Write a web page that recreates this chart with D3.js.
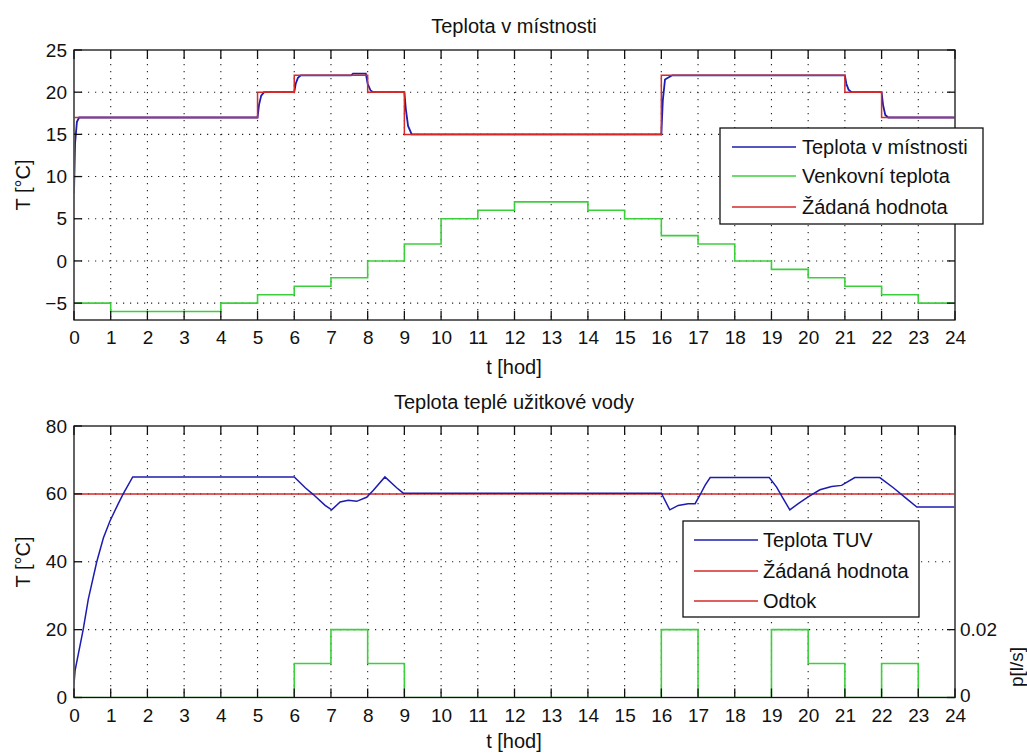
<!DOCTYPE html>
<html><head><meta charset="utf-8">
<script src="https://cdn.jsdelivr.net/npm/d3@7"></script>
<style>
html,body{margin:0;padding:0;background:#fff;}
text{font-family:"Liberation Sans",Arial,sans-serif;fill:#111;}
</style></head>
<body><svg id="c" width="1027" height="753"></svg>
<script>
// ---------- data ----------
const hourTicks = [0,1,2,3,4,5,6,7,8,9,10,11,12,13,14,15,16,17,18,19,20,21,22,23,24];
const roomYTicks = [-5,0,5,10,15,20,25];
const tuvYTicks = [0,20,40,60,80];
const flowYTicks = [0,0.02];

// Top: set-point room temperature (step, value holds from time until next)
const roomSetTimes = [0,5,6,8,9,16,21,22,24];
const roomSetVals  = [17,20,22,20,15,22,20,17,17];

// Top: outdoor temperature per hour (step)
const outdoorTimes = [0,1,2,3,4,5,6,7,8,9,10,11,12,13,14,15,16,17,18,19,20,21,22,23,24];
const outdoorVals  = [-5,-6,-6,-6,-5,-4,-3,-2,0,2,5,6,7,7,6,5,3,2,0,-1,-2,-3,-4,-5,-5];

// Top: room temperature (simulated response)
const roomTimes = [0,0.03,0.08,0.14,5,5.04,5.1,5.18,6,6.04,6.1,6.18,7.55,7.6,7.95,8.0,8.08,8.15,9,9.04,9.1,9.2,16,16.04,16.1,16.18,16.3,21,21.04,21.1,21.18,22,22.04,22.1,22.18,24];
const roomVals  = [8,14,16.5,17,17,18.5,19.6,20,20,21,21.7,22,22,22.2,22.2,21,20.2,20,20,18,16,15,15,19,21.5,21.7,22,22,21,20.3,20,20,18.5,17.3,17,17];

// Bottom: hot water temperature
const tuvTimes = [0,0.03,0.25,0.39,0.62,0.8,0.98,1.2,1.34,1.6,6.0,6.3,6.52,6.84,7.02,7.25,7.47,7.7,7.97,8.15,8.47,8.79,8.97,16.0,16.23,16.46,16.73,16.92,17.05,17.19,17.33,18.94,19.14,19.32,19.5,19.73,20.0,20.32,20.64,20.91,21.27,21.95,22.32,22.68,22.96,24];
const tuvVals  = [4,8,20,29,40,47,52,57,60,65,65,61.8,59.8,56.6,55.3,57.6,58.1,57.8,59,61,65,61.8,60.2,60.2,55.3,56.6,57.1,57.1,59.6,62.5,64.8,64.8,62,58.6,55.3,57.1,59.1,61.2,62.2,62.5,64.8,64.8,61.8,58.6,56.1,56.1];
const tuvSetpoint = 60;

// Bottom: water outflow per hour [l/s] (step)
const flowTimes = [0,1,2,3,4,5,6,7,8,9,10,11,12,13,14,15,16,17,18,19,20,21,22,23,24];
const flowVals  = [0,0,0,0,0,0,0.01,0.02,0.01,0,0,0,0,0,0,0,0.02,0,0,0.02,0.01,0,0.01,0,0];

const titles = ["Teplota v místnosti","Teplota teplé užitkové vody"];
const legendTop = ["Teplota v místnosti","Venkovní teplota","Žádaná hodnota"];
const legendBottom = ["Teplota TUV","Žádaná hodnota","Odtok"];

// ---------- drawing ----------
const BLUE="#1c1cb0", RED="#d42a2a", GREEN="#3ccf3c";
const svg = d3.select("#c");
svg.append("rect").attr("width",1027).attr("height",753).attr("fill","#fff");
const defs = svg.append("defs");

const L=74, R=955;
const x = d3.scaleLinear().domain([0,24]).range([L,R]);

function panel(yDom, top, bottom, yTicks, id){
  const y = d3.scaleLinear().domain(yDom).range([bottom, top]);
  defs.append("clipPath").attr("id",id).append("rect")
    .attr("x",L+0.8).attr("y",top+0.8).attr("width",R-L-1.6).attr("height",bottom-top-1.6);
  const g = svg.append("g");
  g.selectAll(".gx").data(hourTicks.filter(d=>d>0&&d<24)).join("line")
    .attr("x1",d=>x(d)).attr("x2",d=>x(d)).attr("y1",top).attr("y2",bottom)
    .attr("stroke","#222").attr("stroke-width",1.1).attr("stroke-dasharray","1.2,5.8");
  g.selectAll(".gy").data(yTicks.filter(d=>d>yDom[0]&&d<yDom[1])).join("line")
    .attr("x1",L).attr("x2",R).attr("y1",d=>y(d)).attr("y2",d=>y(d))
    .attr("stroke","#222").attr("stroke-width",1.1).attr("stroke-dasharray","1.2,5.8");
  const data = svg.append("g").attr("clip-path",`url(#${id})`);
  return {y,g:data,top,bottom};
}
function frame(p, yTicks, rightTicks){
  const {y,top,bottom} = p;
  const g = svg.append("g");
  g.append("rect").attr("x",L).attr("y",top).attr("width",R-L).attr("height",bottom-top)
    .attr("fill","none").attr("stroke","#111").attr("stroke-width",1.3);
  hourTicks.forEach(d=>{
    g.append("line").attr("x1",x(d)).attr("x2",x(d)).attr("y1",bottom).attr("y2",bottom-9).attr("stroke","#111").attr("stroke-width",1.3);
    g.append("line").attr("x1",x(d)).attr("x2",x(d)).attr("y1",top).attr("y2",top+9).attr("stroke","#111").attr("stroke-width",1.3);
  });
  const ax = d3.axisBottom(x).tickValues(hourTicks).tickSize(0).tickPadding(11);
  const axg = g.append("g").attr("transform",`translate(0,${bottom})`).call(ax);
  axg.select(".domain").remove();
  axg.selectAll("text").attr("font-size",19).attr("fill","#111");
  yTicks.forEach(d=>{
    g.append("line").attr("x1",L).attr("x2",L+8).attr("y1",y(d)).attr("y2",y(d)).attr("stroke","#111").attr("stroke-width",1.3);
    if(!rightTicks) g.append("line").attr("x1",R).attr("x2",R-8).attr("y1",y(d)).attr("y2",y(d)).attr("stroke","#111").attr("stroke-width",1.3);
  });
  const ay = d3.axisLeft(y).tickValues(yTicks).tickSize(0).tickPadding(7);
  const ayg = g.append("g").attr("transform",`translate(${L},0)`).call(ay);
  ayg.select(".domain").remove();
  ayg.selectAll("text").attr("font-size",19).attr("fill","#111");
  return g;
}

function stepLine(g, xs, ys, yS, color, w){
  const pts = xs.map((t,i)=>[t,ys[i]]);
  g.append("path").datum(pts)
    .attr("d", d3.line().x(d=>x(d[0])).y(d=>yS(d[1])).curve(d3.curveStepAfter))
    .attr("fill","none").attr("stroke",color).attr("stroke-width",w);
}
function polyLine(g, xs, ys, yS, color, w){
  const pts = xs.map((t,i)=>[t,ys[i]]);
  g.append("path").datum(pts)
    .attr("d", d3.line().x(d=>x(d[0])).y(d=>yS(d[1])))
    .attr("fill","none").attr("stroke",color).attr("stroke-width",w);
}

function legend(g, x0, y0, x1, y1, rows, colors, lx0, lx1, tx, ys){
  g.append("rect").attr("x",x0).attr("y",y0).attr("width",x1-x0).attr("height",y1-y0)
    .attr("fill","#fff").attr("stroke","#111").attr("stroke-width",1.3);
  rows.forEach((r,i)=>{
    g.append("line").attr("x1",lx0).attr("x2",lx1).attr("y1",ys[i]).attr("y2",ys[i]).attr("stroke",colors[i]).attr("stroke-width",1.3);
    g.append("text").attr("x",tx).attr("y",ys[i]+7).attr("font-size",20).text(r);
  });
}

// ---- top panel ----
const p1 = panel([-7,25], 50, 320, roomYTicks, "clipTop");
stepLine(p1.g, outdoorTimes, outdoorVals, p1.y, GREEN, 1.6);
polyLine(p1.g, roomTimes, roomVals, p1.y, BLUE, 1.8);
stepLine(p1.g, roomSetTimes, roomSetVals, p1.y, RED, 1.5);
const f1 = frame(p1, roomYTicks, false);
legend(f1, 720, 128, 983, 224, legendTop, [BLUE,GREEN,RED], 732, 796, 802, [147,176,207]);
svg.append("text").attr("x",514).attr("y",33).attr("text-anchor","middle").attr("font-size",20).text(titles[0]);
svg.append("text").attr("x",514).attr("y",374).attr("text-anchor","middle").attr("font-size",20).text("t [hod]");
svg.append("text").attr("transform","translate(30,185) rotate(-90)").attr("text-anchor","middle").attr("font-size",20).text("T [°C]");

// ---- bottom panel ----
const p2 = panel([0,80], 426, 697.5, tuvYTicks, "clipBottom");
const y2 = d3.scaleLinear().domain([0,0.08]).range([697.5,426]);
stepLine(p2.g, flowTimes, flowVals, y2, GREEN, 1.6);
p2.g.append("line").attr("x1",x(0)).attr("x2",x(24)).attr("y1",p2.y(tuvSetpoint)).attr("y2",p2.y(tuvSetpoint)).attr("stroke",RED).attr("stroke-width",1.5);
polyLine(p2.g, tuvTimes, tuvVals, p2.y, BLUE, 1.5);
const f2 = frame(p2, tuvYTicks, true);
flowYTicks.forEach(d=>{
  f2.append("line").attr("x1",R).attr("x2",R-8).attr("y1",y2(d)).attr("y2",y2(d)).attr("stroke","#111").attr("stroke-width",1.3);
});
const ar = d3.axisRight(y2).tickValues(flowYTicks).tickSize(0).tickPadding(5).tickFormat(d=>d===0?"0":d3.format(".2f")(d));
const arg = f2.append("g").attr("transform",`translate(${R},0)`).call(ar);
arg.select(".domain").remove();
arg.selectAll("text").attr("font-size",19).attr("fill","#111");
arg.selectAll("text").filter(d=>d===0).attr("dy","0.22em");
legend(f2, 683, 521, 919, 617, legendBottom, [BLUE,RED,RED], 694, 758, 763, [540,571,601]);
svg.append("text").attr("x",514).attr("y",409).attr("text-anchor","middle").attr("font-size",20).text(titles[1]);
svg.append("text").attr("x",514).attr("y",748).attr("text-anchor","middle").attr("font-size",20).text("t [hod]");
svg.append("text").attr("transform","translate(30,562) rotate(-90)").attr("text-anchor","middle").attr("font-size",20).text("T [°C]");
svg.append("text").attr("transform","translate(1023,667) rotate(-90)").attr("text-anchor","middle").attr("font-size",19).text("p[l/s]");
</script></body></html>
